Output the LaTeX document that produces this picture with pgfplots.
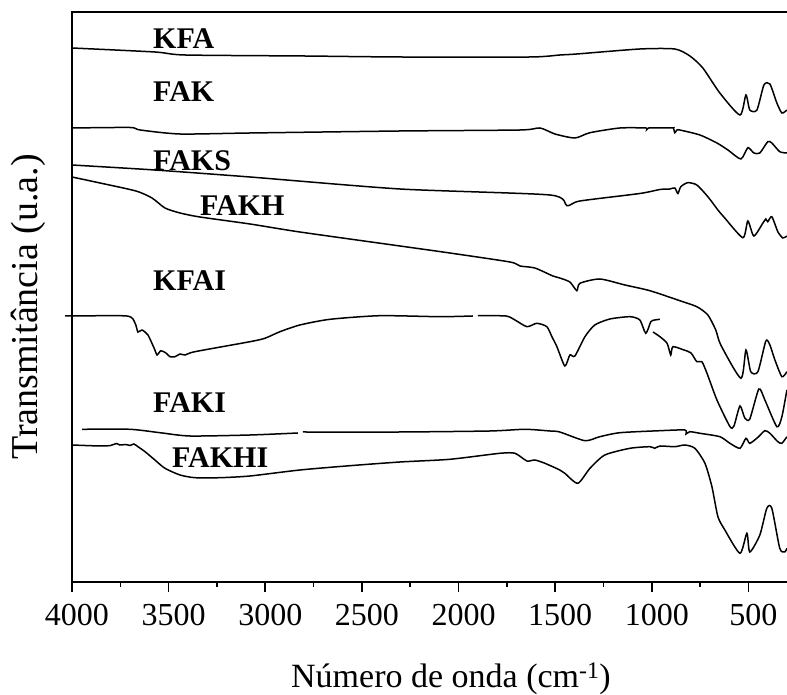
\documentclass[border=0pt]{standalone}
\usepackage{fontspec}
\setmainfont{Liberation Serif}
\usepackage{pgfplots}
\pgfplotsset{compat=1.18}
\begin{document}
\begin{tikzpicture}[lbl/.style={anchor=west, font=\bfseries\fontsize{30}{36}\selectfont, inner sep=0pt},
  spec/.style={black, solid, line width=1.5pt, mark=none, smooth, tension=0.4}]
\useasboundingbox (0,0) rectangle (787pt,695pt);
\begin{axis}[
  at={(72pt,113pt)}, anchor=south west,
  scale only axis, width=718pt, height=570pt,
  x dir=reverse, xmin=285, xmax=4000, ymin=-582, ymax=-12,
  xtick={4000,3500,3000,2500,2000,1500,1000,500},
  xticklabels={4000,3500,3000,2500,2000,1500,1000,500},
  minor xtick={3750,3250,2750,2250,1750,1250,750},
  ytick=\empty, xtick pos=bottom, tick align=outside,
  major tick length=10pt, minor tick length=5pt,
  every tick/.style={black, line width=1.6pt},
  axis line style={line width=2pt},
  xticklabel style={font=\fontsize{32}{38}\selectfont, xshift=5pt, yshift=-9pt},
  xlabel={Número de onda (cm\textsuperscript{-1})},
  xlabel style={font=\fontsize{34}{40}\selectfont, at={(axis description cs:0.5,0)}, anchor=base, yshift=-106pt, xshift=20pt},
  ylabel={Transmitância (u.a.)},
  ylabel style={font=\fontsize{38}{44}\selectfont, at={(axis description cs:-0.0613,0.4825)}, anchor=center},
  clip=false,
]
% KFA
\addplot[spec] coordinates {(4000,-48) (3571,-52) (3415,-55) (2800,-56) (2303,-57) (1631,-57) (1476,-55) (1388,-54) (1062,-49) (881,-49) (803,-56) (736,-68) (648,-93) (544,-115) (513,-95) (493,-110) (456,-110) (420,-85) (389,-84) (353,-103) (327,-113) (301,-110)};
% FAK
\addplot[spec] coordinates {(4000,-128) (3700,-127.5) (3648,-130) (3441,-134) (3079,-133) (2303,-131) (1682,-130) (1579,-128) (1501,-134) (1398,-138) (1320,-132.7) (1165,-128) (1030,-128) (1026,-129.5) (1015,-128) (896,-128) (888,-128) (881,-132.7) (870,-130) (855,-130) (751,-135) (663,-143) (606,-150) (539,-159) (503,-147.7) (472,-153) (441,-153) (400,-141.7) (379,-143) (338,-151.7) (301,-153)};
% FAKS
\addplot[spec] coordinates {(4000,-165) (3571,-170) (3079,-177) (2303,-189) (1527,-195) (1439,-205.7) (1372,-201) (1062,-193.5) (958,-189.5) (907,-189) (881,-188) (865,-193.5) (850,-186.7) (814,-182.7) (767,-185) (710,-196.7) (658,-210) (627,-217) (529,-237.7) (503,-221) (472,-236) (425,-223) (410,-219) (400,-221.7) (379,-216.7) (348,-231.7) (322,-238) (301,-236)};
% FAKH
\addplot[spec] coordinates {(4000,-177) (3855,-183) (3669,-191) (3586,-198) (3519,-208) (3441,-213) (3338,-217) (3079,-224) (2821,-232) (2303,-246) (2045,-253) (1734,-262) (1682,-266) (1605,-268) (1512,-276) (1476,-278) (1424,-282) (1388,-290.7) (1372,-283.3) (1269,-279) (1139,-285) (1010,-290.7) (855,-300.7) (767,-306.7) (710,-315) (669,-330) (643,-345) (539,-378.3) (513,-350) (488,-371.7) (451,-371.7) (410,-341) (389,-345) (363,-360) (327,-376.7) (301,-371.7)};
% KFAI
\addplot[spec] coordinates {(4036,-315.7) (4000,-316) (3716,-316) (3674,-323) (3659,-332) (3638,-330) (3607,-335) (3571,-350) (3560,-355) (3540,-350.7) (3514,-353) (3493,-356.7) (3467,-356.7) (3441,-354) (3415,-355) (3364,-351.7) (3079,-341.7) (3002,-338.3) (2924,-331.7) (2821,-325) (2665,-319.3) (2407,-315.7) (2096,-316.7) (1926,-316)};
\addplot[spec] coordinates {(1900,-315.7) (1755,-316) (1708,-320) (1646,-326.7) (1595,-323.3) (1543,-326.7) (1517,-336.7) (1491,-346.7) (1450,-366) (1424,-355) (1398,-356) (1346,-336.7) (1295,-325) (1217,-319) (1113,-316.7) (1062,-320) (1031,-333.3) (1005,-321.7) (985,-320) (958,-319.3)};
\addplot[spec] coordinates {(994,-332) (958,-336.7) (921,-343.3) (902,-355) (891,-346.7) (834,-350) (797,-353) (767,-361.7) (741,-361.7) (715,-373) (663,-400) (596,-426.5) (575,-426) (544,-406) (519,-418) (493,-419) (446,-389) (415,-400) (353,-426.7) (327,-416.7) (301,-390)};
% FAKI
\addplot[spec] coordinates {(3948,-429.3) (3700,-429.3) (3545,-432.7) (3390,-436) (3079,-435) (2831,-433)};
\addplot[spec] coordinates {(2805,-432) (2303,-432) (1838,-431) (1657,-429.3) (1527,-431) (1476,-432) (1346,-440.7) (1269,-436.7) (1165,-432.7) (958,-430.7) (829,-430) (823,-434) (803,-431.7) (751,-433.3) (648,-436.7) (596,-443.3) (544,-448.3) (513,-438.3) (493,-443.3) (451,-437.3) (415,-430.7) (389,-433.3) (348,-441.7) (327,-443.3) (301,-436.7)};
% FAKHI
\addplot[spec] coordinates {(4000,-445) (3855,-446) (3800,-445.5) (3770,-443.5) (3752,-445) (3720,-444.5) (3700,-445.5) (3680,-444) (3660,-446.5) (3622,-451.7) (3571,-460) (3519,-468.3) (3441,-475) (3364,-477.7) (3234,-477.7) (3079,-476) (2821,-470) (2562,-465.7) (2303,-462) (2045,-459.3) (1786,-453.3) (1708,-453.3) (1646,-461) (1605,-460) (1553,-463.3) (1476,-470) (1450,-473.3) (1383,-483.3) (1320,-468.3) (1243,-455) (1113,-448.3) (1010,-446.7) (985,-448.3) (958,-446) (881,-446.7) (829,-445) (777,-448.3) (725,-463.3) (689,-486.7) (658,-516.7) (622,-530) (544,-553.3) (508,-533.3) (493,-552) (441,-535) (405,-508.3) (379,-508.3) (338,-548.3) (312,-552) (301,-548.3)};
\node[lbl] at (axis cs:3581,-39) {KFA};
\node[lbl] at (axis cs:3581,-92) {FAK};
\node[lbl] at (axis cs:3581,-161) {FAKS};
\node[lbl] at (axis cs:3338,-206) {FAKH};
\node[lbl] at (axis cs:3581,-281) {KFAI};
\node[lbl] at (axis cs:3581,-403) {FAKI};
\node[lbl] at (axis cs:3483,-458) {FAKHI};
\end{axis}
\end{tikzpicture}
\end{document}
